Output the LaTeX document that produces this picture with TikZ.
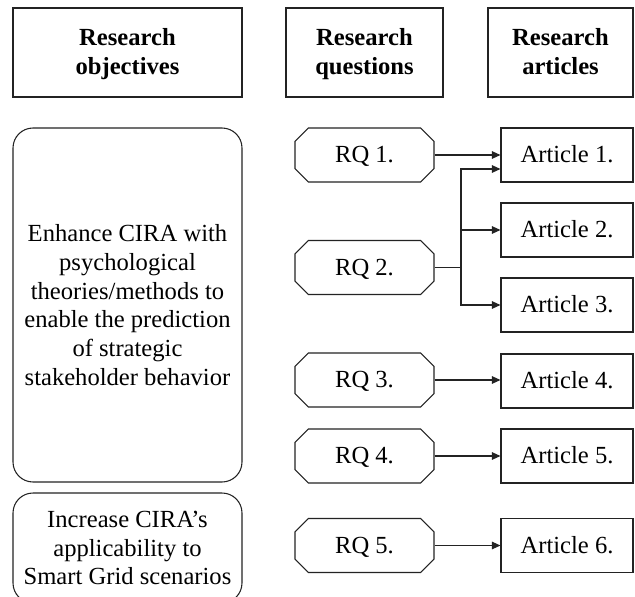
\documentclass[tikz,border=0pt]{standalone}
\usepackage{fontspec}
\setmainfont{Liberation Serif}
\usepackage{tikz}
\usetikzlibrary{shapes.misc, arrows.meta, positioning, calc}
\definecolor{mydark}{RGB}{35,35,35}
\newcommand{\txtfont}{\fontsize{14}{16.3}\selectfont}
\tikzset{
  hdrbox/.style={rectangle, draw=mydark, line width=1pt,
    minimum height=1.78cm, align=center, inner sep=0pt,
    text depth=1pt, font=\txtfont\bfseries},
  objbox/.style={rectangle, draw=mydark, rounded corners=0.4cm,
    minimum width=4.58cm, align=center, inner sep=0pt,
    font=\txtfont, line width=0.6pt},
  rqbox/.style={chamfered rectangle, chamfered rectangle xsep=0.28cm,
    draw=mydark, minimum width=2.78cm, minimum height=1.08cm,
    inner sep=0pt, text height=9pt, text depth=0pt, font=\txtfont, line width=0.6pt},
  artbox/.style={rectangle, draw=mydark, minimum width=2.64cm,
    minimum height=1.08cm, inner sep=0pt, text height=9pt, text depth=0pt,
    font=\txtfont, line width=0.6pt},
  arrow/.style={-{Triangle[length=0.17cm, width=0.15cm]}, line width=0.65pt, color=mydark},
  line/.style={line width=0.65pt, color=mydark}
}

\begin{document}
\begin{tikzpicture}
  \clip (0,0) rectangle (12.7,-11.92);
  \useasboundingbox (0,0) rectangle (12.7,-11.92);

  % ── Column headers ─────────────────────────────────────────────────────────
  \node[hdrbox, minimum width=4.58cm] (hobj) at (2.55,-1.05) {Research\\objectives};
  \node[hdrbox, minimum width=3.14cm] (hrq)  at (7.29,-1.05) {Research\\questions};
  \node[hdrbox, minimum width=2.90cm] (hart) at (11.21,-1.05) {Research\\articles};

  % ── Research objectives ───────────────────────────────────────────────────
  \node[objbox, minimum height=7.08cm] (obj1) at (2.55,-6.10)
    {Enhance CIRA with\\psychological\\theories/methods to\\enable the prediction\\of strategic\\stakeholder behavior};
  \node[objbox, minimum height=2.2cm] (obj2) at (2.55,-10.96)
    {Increase CIRA’s\\applicability to\\Smart Grid scenarios};

  % ── Research questions ────────────────────────────────────────────────────
  \node[rqbox] (rq1) at (7.29,-3.10) {RQ 1.};
  \node[rqbox] (rq2) at (7.29,-5.35) {RQ 2.};
  \node[rqbox] (rq3) at (7.29,-7.60) {RQ 3.};
  \node[rqbox] (rq4) at (7.29,-9.12) {RQ 4.};
  \node[rqbox] (rq5) at (7.29,-10.91) {RQ 5.};

  % ── Research articles ─────────────────────────────────────────────────────
  \node[artbox] (art1) at (11.34,-3.10) {Article 1.};
  \node[artbox] (art2) at (11.34,-4.60) {Article 2.};
  \node[artbox] (art3) at (11.34,-6.10) {Article 3.};
  \node[artbox] (art4) at (11.34,-7.62) {Article 4.};
  \node[artbox] (art5) at (11.34,-9.12) {Article 5.};
  \node[artbox] (art6) at (11.34,-10.91) {Article 6.};

  % ── Connectors ────────────────────────────────────────────────────────────
  \coordinate (bus) at (9.22,-5.35);
  \coordinate (art1low) at ($(art1.west)+(0,-0.28)$);
  \draw[arrow] (rq1.east) -- (art1.west);
  \draw[line] (rq2.east) -- (bus);
  \draw[arrow] (bus) |- (art1low);
  \draw[arrow] (bus) |- (art2.west);
  \draw[arrow] (bus) |- (art3.west);
  \draw[arrow] (rq3.east) -- (rq3.east -| art4.west);
  \draw[arrow] (rq4.east) -- (art5.west);
  \draw[arrow] (rq5.east) -- (art6.west);
\end{tikzpicture}
\end{document}
